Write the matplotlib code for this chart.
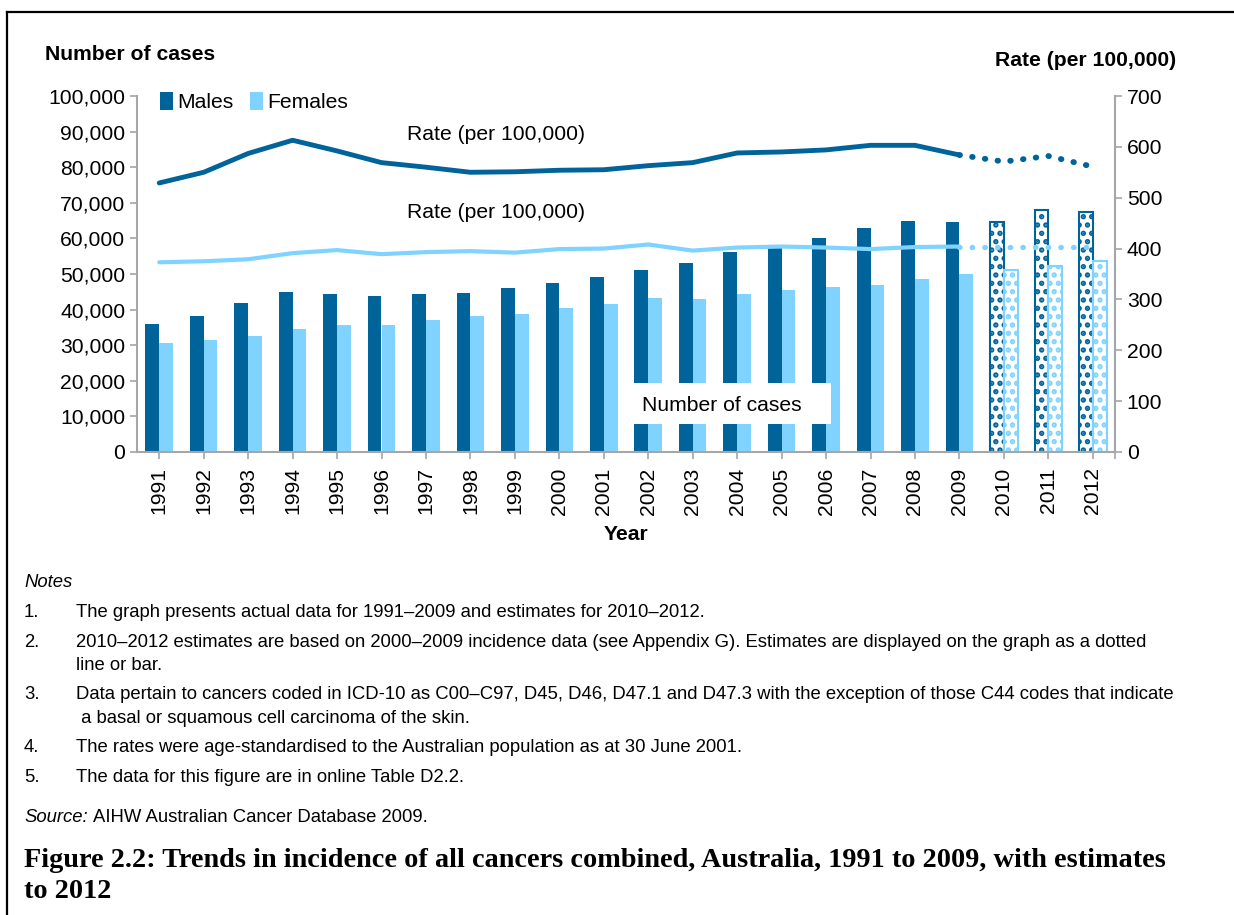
import matplotlib

matplotlib.use("Agg")

import matplotlib.pyplot as plt
import numpy as np
from matplotlib.lines import Line2D
from matplotlib.patches import Patch, Rectangle

plt.rcParams["font.family"] = ["Liberation Sans", "DejaVu Sans"]
plt.rcParams["hatch.linewidth"] = 2.6

# Data
years = list(range(1991, 2013))
n_actual = 19  # 1991-2009 actual, 2010-2012 estimates
males = [35.9, 38.2, 41.8, 44.9, 44.5, 43.8, 44.3, 44.7, 46.1, 47.6, 49.1,
         51.2, 53.1, 56.3, 58.0, 60.0, 62.8, 64.9, 64.6, 64.7, 68.1, 67.4]
females = [30.7, 31.6, 32.6, 34.5, 35.7, 35.8, 37.1, 38.2, 38.8, 40.4, 41.5,
           43.2, 42.9, 44.3, 45.5, 46.3, 46.9, 48.7, 49.9, 51.0, 52.2, 53.6]
male_rate = [529, 550, 587, 613, 592, 569, 560, 550, 551, 554, 555,
             563, 569, 588, 590, 594, 603, 603, 584, 571, 582, 561]
female_rate = [373, 375, 379, 391, 397, 389, 393, 395, 392, 399, 400,
               408, 396, 402, 404, 402, 399, 403, 404, 404, 404, 404]

note_nums = ["1.", "2.", "", "3.", "", "4.", "5."]
note_lines = [
    "The graph presents actual data for 1991\u20132009 and estimates for 2010\u20132012.",
    "2010\u20132012 estimates are based on 2000\u20132009 incidence data (see Appendix G). "
    "Estimates are displayed on the graph as a dotted",
    "line or bar.",
    "Data pertain to cancers coded in ICD-10 as C00\u2013C97, D45, D46, D47.1 and D47.3 "
    "with the exception of those C44 codes that indicate",
    " a basal or squamous cell carcinoma of the skin.",
    "The rates were age-standardised to the Australian population as at 30 June 2001.",
    "The data for this figure are in online Table D2.2.",
]
caption = [
    "Figure 2.2: Trends in incidence of all cancers combined, Australia, 1991 to 2009, with estimates",
    "to 2012",
]

DARK = "#00649b"
LIGHT = "#80d3ff"
GREY = "#a6a6a6"
FS = 15.2
NOTE_FS = 13.3

W, H = 1234, 915
fig = plt.figure(figsize=(W / 100, H / 100), dpi=100)


def fx(px):
    return px / W


def fy(py):
    return 1 - py / H


ax = fig.add_axes([fx(137), fy(452), fx(1115) - fx(137), fy(96) - fy(452)])
x = np.arange(len(years))
m = np.array(males) * 1000
f = np.array(females) * 1000
bw = 0.31
act = slice(0, n_actual)
est = slice(n_actual, None)

ax.bar(x[act] - bw / 2, m[act], bw, color=DARK, zorder=2)
ax.bar(x[act] + bw / 2, f[act], bw, color=LIGHT, zorder=2)
# estimates: white bars with a dotted pattern
ax.bar(x[est] - bw / 2, m[est], bw, facecolor="white", edgecolor=DARK,
       hatch="..", linewidth=1.5, zorder=2)
ax.bar(x[est] + bw / 2, f[est], bw, facecolor="white", edgecolor=LIGHT,
       hatch="..", linewidth=1.5, zorder=2)

ax.set_xlim(-0.5, len(years) - 0.5)
ax.set_ylim(0, 100000)
ax.set_yticks(np.arange(0, 100001, 10000))
ax.set_yticklabels([f"{v:,}" for v in range(0, 100001, 10000)])
ax.set_xticks(x)
ax.set_xticks([len(years) - 0.5], minor=True)
ax.set_xticklabels([str(y) for y in years], rotation=90)
ax.tick_params(axis="both", which="both", labelsize=FS, color=GREY, length=5, width=1.2)
ax.tick_params(axis="x", pad=6)
for side in ("top", "right"):
    ax.spines[side].set_visible(False)
for side in ("left", "bottom"):
    ax.spines[side].set_color(GREY)
    ax.spines[side].set_linewidth(1.5)

ax2 = ax.twinx()
ax2.set_ylim(0, 700)
ax2.set_yticks(np.arange(0, 701, 100))
ax2.tick_params(axis="y", labelsize=FS, color=GREY, length=5, width=1.2)
for side in ("top", "left", "bottom"):
    ax2.spines[side].set_visible(False)
ax2.spines["right"].set_color(GREY)
ax2.spines["right"].set_linewidth(1.5)

mr = np.array(male_rate)
fr = np.array(female_rate)
ax2.plot(x[:n_actual], mr[:n_actual], color=DARK, lw=3.5, solid_capstyle="round")
ax2.plot(x[n_actual - 1:], mr[n_actual - 1:], color=DARK, lw=4.2,
         linestyle=(0, (0.1, 2.1)), dash_capstyle="round")
ax2.plot(x[:n_actual], fr[:n_actual], color=LIGHT, lw=3, solid_capstyle="round")
ax2.plot(x[n_actual - 1:], fr[n_actual - 1:], color=LIGHT, lw=3.8,
         linestyle=(0, (0.1, 2.3)), dash_capstyle="round")

handles = [Patch(facecolor=DARK, label="Males"), Patch(facecolor=LIGHT, label="Females")]
ax.legend(handles=handles, loc="upper left", bbox_to_anchor=(0.015, 1.035), ncol=2,
          frameon=False, fontsize=FS, handlelength=0.6, handleheight=0.9,
          handletextpad=0.2, columnspacing=0.8, borderaxespad=0)

fig.text(fx(407), fy(134), "Rate (per 100,000)", fontsize=FS, va="center")
fig.text(fx(407), fy(212), "Rate (per 100,000)", fontsize=FS, va="center")
fig.add_artist(Rectangle((fx(622), fy(424)), fx(831) - fx(622), fy(383) - fy(424),
                         transform=fig.transFigure, facecolor="white",
                         edgecolor="none", zorder=3))
fig.text(fx(642), fy(405), "Number of cases", fontsize=FS, va="center", zorder=4)

fig.text(fx(45), fy(55), "Number of cases", fontsize=FS, weight="bold", va="center")
fig.text(fx(1176), fy(61), "Rate (per 100,000)", fontsize=FS, weight="bold",
         va="center", ha="right")
fig.text(fx(626), fy(535), "Year", fontsize=FS, weight="bold", va="center", ha="center")

# Notes and source
fig.text(fx(24), fy(587), "Notes", fontsize=NOTE_FS, style="italic", va="baseline")
note_base = [617, 647, 670, 699, 723, 752, 782]
for num, txt, yy in zip(note_nums, note_lines, note_base):
    if num:
        fig.text(fx(24), fy(yy), num, fontsize=NOTE_FS, va="baseline")
    fig.text(fx(76), fy(yy), txt, fontsize=NOTE_FS, va="baseline")
fig.text(fx(24), fy(822), "Source:", fontsize=NOTE_FS, style="italic", va="baseline")
fig.text(fx(93), fy(822), "AIHW Australian Cancer Database 2009.", fontsize=NOTE_FS,
         va="baseline")

for line, yy in zip(caption, [867, 898]):
    fig.text(fx(24), fy(yy), line, fontsize=20.3, weight="bold",
             family=["Liberation Serif", "DejaVu Serif"], va="baseline")

# frame lines at top and left
fig.add_artist(Line2D([fx(7), 1], [fy(12), fy(12)], color="black", lw=1.6))
fig.add_artist(Line2D([fx(7), fx(7)], [0, fy(12)], color="black", lw=1.6))

fig.savefig("out.png", dpi=100)
